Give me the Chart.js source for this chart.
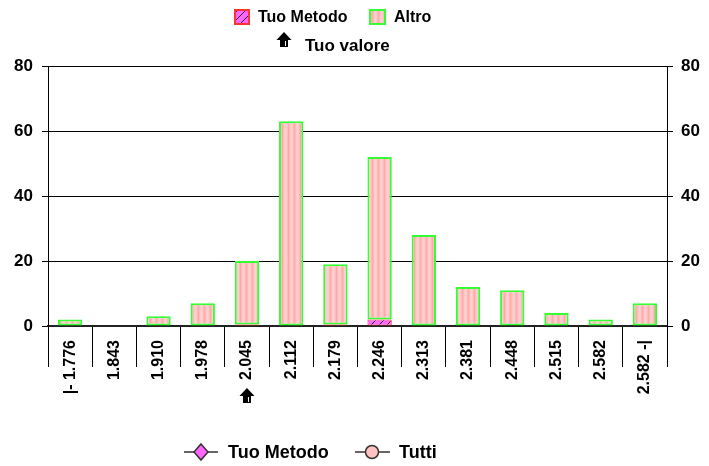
<!DOCTYPE html>
<html>
<head>
<meta charset="utf-8">
<script src="https://cdn.jsdelivr.net/npm/chart.js@4"></script>
<style>
  html, body { margin: 0; padding: 0; background: #fff; }
  #wrap { width: 709px; height: 466px; position: relative; }
</style>
</head>
<body>
<div id="wrap"><canvas id="c" width="709" height="466"></canvas></div>
<script>
// Class limits of the histogram
const categories = ['|- 1.776', '1.843', '1.910', '1.978', '2.045', '2.112', '2.179',
                    '2.246', '2.313', '2.381', '2.448', '2.515', '2.582', '2.582 -|'];
// Counts per class
const tuoMetodo = [0, 0, 0, 0, 0.5, 0, 0.5, 2, 0, 0, 0, 0, 0, 0];
const altro     = [2, 0, 3, 7, 19.5, 63, 18.5, 50, 28, 12, 11, 4, 2, 7];
// Y axis ticks
const yTicks = [0, 20, 40, 60, 80];
// Class that holds the submitted value
const tuoValoreIndex = 4;
// Series names
const seriesNames = ['Tuo Metodo', 'Altro'];
const lineLegendNames = ['Tuo Metodo', 'Tutti'];
const tuoValoreLabel = 'Tuo valore';

const FONT = "'Liberation Sans', Arial, sans-serif";

// Fill patterns
function makeStripes() {
  const p = document.createElement('canvas');
  p.width = 6; p.height = 2;
  const g = p.getContext('2d');
  const cols = ['#ffaaaa', '#ffbaba', '#ffcaca', '#ffd0d0', '#ffcaca', '#ffbaba'];
  cols.forEach((c, i) => { g.fillStyle = c; g.fillRect(i, 0, 1, 2); });
  return g.createPattern(p, 'repeat');
}
function makeHatch() {
  const p = document.createElement('canvas');
  p.width = 8; p.height = 8;
  const g = p.getContext('2d');
  g.fillStyle = '#ff66ff';
  g.fillRect(0, 0, 8, 8);
  g.strokeStyle = '#222';
  g.lineWidth = 1;
  g.beginPath();
  g.moveTo(0, 8); g.lineTo(8, 0);
  g.moveTo(-1, 1); g.lineTo(1, -1);
  g.moveTo(7, 9); g.lineTo(9, 7);
  g.stroke();
  return g.createPattern(p, 'repeat');
}
const stripeFill = makeStripes();
const hatchFill = makeHatch();

// Black up-arrow with a light edge on the stem
function drawArrow(ctx, cx, top) {
  ctx.fillStyle = '#000';
  ctx.beginPath();
  ctx.moveTo(cx, top);
  ctx.lineTo(cx + 7.5, top + 8);
  ctx.lineTo(cx + 4, top + 8);
  ctx.lineTo(cx + 4, top + 15);
  ctx.lineTo(cx - 4, top + 15);
  ctx.lineTo(cx - 4, top + 8);
  ctx.lineTo(cx - 7.5, top + 8);
  ctx.closePath();
  ctx.fill();
  ctx.fillStyle = '#fff';
  ctx.fillRect(cx + 1, top + 9, 1, 5);
}

const legendPlugin = {
  id: 'legends',
  afterDraw(chart) {
    const ctx = chart.ctx;
    const ds = chart.data.datasets;
    ctx.save();
    ctx.textBaseline = 'middle';
    ctx.textAlign = 'left';

    // Top legend: bar series
    ctx.fillStyle = ds[0].backgroundColor;
    ctx.fillRect(234, 9, 16, 16);
    ctx.strokeStyle = '#ff3333'; ctx.lineWidth = 2;
    ctx.strokeRect(235, 10, 14, 14);
    ctx.fillStyle = '#000';
    ctx.font = 'bold 16px ' + FONT;
    ctx.fillText(ds[0].label, 258, 18);

    ctx.fillStyle = ds[1].backgroundColor;
    ctx.fillRect(369, 9, 17, 16);
    ctx.strokeStyle = '#33ff33'; ctx.lineWidth = 2;
    ctx.strokeRect(370, 10, 15, 14);
    ctx.fillStyle = '#000';
    ctx.fillText(ds[1].label, 394, 18);

    // Marker for the submitted value
    drawArrow(ctx, 284, 32);
    ctx.fillStyle = '#000';
    ctx.font = 'bold 17px ' + FONT;
    ctx.fillText(tuoValoreLabel, 305, 46);

    const xs = chart.scales.x;
    drawArrow(ctx, xs.getPixelForValue(tuoValoreIndex), 388);

    // Bottom legend: line series
    const by = 452;
    ctx.strokeStyle = '#333'; ctx.lineWidth = 1.5;
    ctx.beginPath(); ctx.moveTo(184, by); ctx.lineTo(218, by); ctx.stroke();
    ctx.fillStyle = '#ff66ff';
    ctx.beginPath();
    ctx.moveTo(201, by - 8); ctx.lineTo(208, by); ctx.lineTo(201, by + 8); ctx.lineTo(194, by);
    ctx.closePath(); ctx.fill(); ctx.stroke();
    ctx.fillStyle = '#000';
    ctx.font = 'bold 18px ' + FONT;
    ctx.fillText(lineLegendNames[0], 228, by + 1);

    ctx.beginPath(); ctx.moveTo(355, by); ctx.lineTo(390, by); ctx.stroke();
    ctx.fillStyle = '#ffc2c2';
    ctx.beginPath(); ctx.arc(372, by, 6.5, 0, Math.PI * 2); ctx.fill(); ctx.stroke();
    ctx.fillStyle = '#000';
    ctx.fillText(lineLegendNames[1], 399, by + 1);
    ctx.restore();
  }
};

const tickFont = { family: FONT, weight: 'bold', size: 17 };

new Chart(document.getElementById('c'), {
  type: 'bar',
  data: {
    labels: categories,
    datasets: [
      {
        label: seriesNames[0],
        data: tuoMetodo,
        backgroundColor: hatchFill,
        borderColor: '#ff3333',
        borderWidth: c => (c.raw ? 1 : 0),
        borderSkipped: false,
        yAxisID: 'y'
      },
      {
        label: seriesNames[1],
        data: altro,
        backgroundColor: stripeFill,
        borderColor: '#33ff33',
        borderWidth: c => (c.raw ? 2 : 0),
        borderSkipped: false,
        yAxisID: 'y'
      }
    ]
  },
  options: {
    responsive: false,
    animation: false,
    devicePixelRatio: 1,
    layout: { padding: { top: 66, bottom: 40, left: 0, right: 0 } },
    datasets: { bar: { barPercentage: 0.55, categoryPercentage: 1 } },
    plugins: { legend: { display: false }, tooltip: { enabled: false } },
    scales: {
      x: {
        stacked: true,
        offset: true,
        grid: { offset: true, drawOnChartArea: false, drawTicks: true, tickLength: 41, color: '#000', lineWidth: 1 },
        border: { display: true, color: '#222', width: 2 },
        ticks: {
          autoSkip: false, minRotation: 90, maxRotation: 90, padding: -27,
          color: '#000', font: { family: FONT, weight: 'bold', size: 16 }
        },
        afterFit(s) { s.height = 100; }
      },
      y: {
        stacked: true,
        position: 'left',
        min: 0, max: 80,
        afterBuildTicks(s) { s.ticks = yTicks.map(v => ({ value: v })); },
        grid: { color: '#000', lineWidth: 1, tickLength: 6 },
        border: { display: true, color: '#000', width: 1 },
        ticks: { padding: 9, color: '#000', font: tickFont },
        afterFit(s) { s.width = 48; }
      },
      y2: {
        position: 'right',
        min: 0, max: 80,
        afterBuildTicks(s) { s.ticks = yTicks.map(v => ({ value: v })); },
        grid: { drawOnChartArea: false, color: '#000', lineWidth: 1, tickLength: 6 },
        border: { display: true, color: '#000', width: 1 },
        ticks: { padding: 8, color: '#000', font: tickFont },
        afterFit(s) { s.width = 42; }
      }
    }
  },
  plugins: [legendPlugin]
});
</script>
</body>
</html>
